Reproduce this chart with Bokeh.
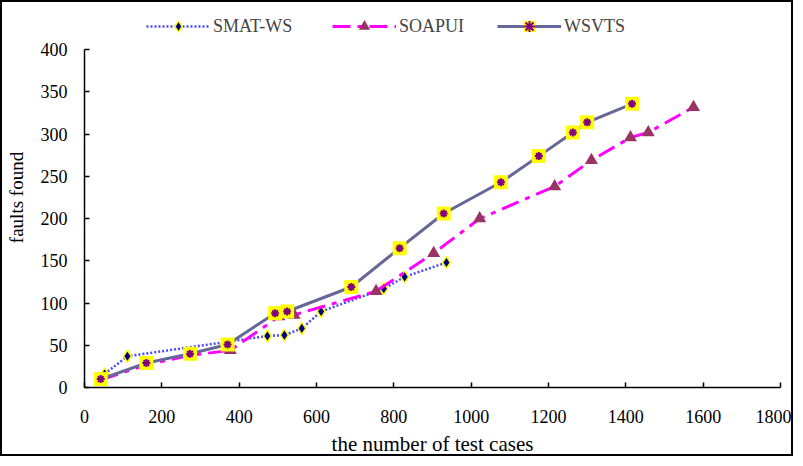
from bokeh.plotting import figure
from bokeh.models import Legend, LegendItem, Range1d, FixedTicker
from bokeh.embed import file_html
from bokeh.resources import INLINE

# data
smat_x = [52, 111, 473, 517, 562, 612, 774, 828, 936]
smat_y = [16, 37, 61, 62, 70, 90, 117, 131, 148]
soap_x = [42, 160, 273, 377, 503, 542, 754, 903, 1022, 1216, 1311, 1412, 1458, 1575]
soap_y = [9, 27, 38, 44, 84, 86, 114, 159, 200, 238, 269, 296, 302, 332]
wsvts_x = [42, 160, 273, 370, 493, 524, 690, 815, 929, 1077, 1175, 1263, 1300, 1416]
wsvts_y = [10, 29, 40, 51, 88, 90, 119, 165, 206, 243, 274, 302, 314, 336]
x_ticks = [0, 200, 400, 600, 800, 1000, 1200, 1400, 1600, 1800]
y_ticks = [0, 50, 100, 150, 200, 250, 300, 350, 400]
series_names = ["SMAT-WS", "SOAPUI", "WSVTS"]

FONT = "Liberation Serif"

p = figure(width=793, height=456, output_backend="svg", toolbar_location=None,
           x_range=Range1d(0, 1800), y_range=Range1d(0, 450),
           min_border_left=82, min_border_right=15, min_border_top=5, min_border_bottom=71,
           styles={"border": "2px solid black"})
p.outline_line_color = None
p.xgrid.visible = False
p.ygrid.visible = False
p.background_fill_color = "white"
p.border_fill_color = "white"

for ax, ticks in ((p.xaxis[0], x_ticks), (p.yaxis[0], y_ticks)):
    ax.ticker = FixedTicker(ticks=ticks)
    ax.minor_tick_line_color = None
    ax.major_tick_in = 5
    ax.major_tick_out = 0
    ax.axis_line_width = 1.5
    ax.axis_line_color = "black"
    ax.major_tick_line_width = 1.5
    ax.major_label_text_font = FONT
    ax.major_label_text_font_size = "18px"
    ax.major_label_text_color = "black"
    ax.axis_label_text_font = FONT
    ax.axis_label_text_font_style = "normal"
    ax.axis_label_text_color = "black"

p.yaxis.bounds = (0, 400)
p.xaxis.axis_label = "the number of test cases"
p.yaxis.axis_label = "faults found"
p.xaxis.axis_label_text_font_size = "21px"
p.yaxis.axis_label_text_font_size = "19px"
p.xaxis.major_label_standoff = 22
p.yaxis.major_label_standoff = 17
p.xaxis.axis_label_standoff = 6
p.yaxis.axis_label_standoff = 11

# SMAT-WS
l1 = p.line(smat_x, smat_y, line_color="#4a4af5", line_width=2.5, line_dash="2 2")
m1 = p.scatter(smat_x, smat_y, marker="diamond", size=12, fill_color="#000080",
               line_color="#ffff00", line_width=1.5)
# SOAPUI
l2 = p.line(soap_x, soap_y, line_color="#ff00ff", line_width=3, line_dash="18 7 5 7")
m2 = p.scatter(soap_x, soap_y, marker="triangle", size=13, fill_color="#993366",
               line_color=None)
# WSVTS
l3 = p.line(wsvts_x, wsvts_y, line_color="#666699", line_width=3)
m3a = p.scatter(wsvts_x, wsvts_y, marker="square", size=14, fill_color="#ffff00",
                line_color=None)
m3b = p.scatter(wsvts_x, wsvts_y, marker="asterisk", size=8, line_color="#800080",
                line_width=2)

renderer_sets = [[l1, m1], [l2, m2], [l3, m3a, m3b]]
legend_x = [62, 248, 413]
for name, rs, lx in zip(series_names, renderer_sets, legend_x):
    lg = Legend(items=[LegendItem(label=name, renderers=rs)],
                location=(lx, 347), orientation="horizontal",
                border_line_alpha=0, background_fill_alpha=0,
                glyph_width=64, glyph_height=28, label_standoff=3,
                padding=0, margin=0,
                label_text_font=FONT, label_text_font_size="18px")
    p.add_layout(lg)

open("out.html", "w").write(file_html(p, INLINE))
